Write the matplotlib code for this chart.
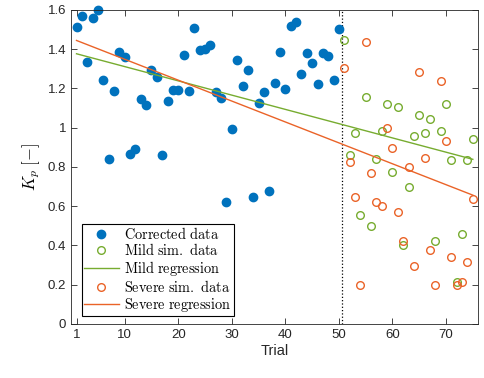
import numpy as np
import matplotlib
matplotlib.use('Agg')
from matplotlib import pyplot as plt

# corrected data, trials 1..50
trial_corr = np.arange(1, 51)
kp_corr = [1.514, 1.570, 1.333, 1.556, 1.597, 1.245, 0.842, 1.185, 1.384, 1.361,
           0.866, 0.891, 1.146, 1.114, 1.296, 1.258, 0.861, 1.134, 1.194, 1.190,
           1.372, 1.189, 1.507, 1.396, 1.403, 1.423, 1.180, 1.153, 0.621, 0.991,
           1.342, 1.211, 1.293, 0.646, 1.126, 1.179, 0.675, 1.228, 1.383, 1.199,
           1.519, 1.537, 1.272, 1.379, 1.328, 1.224, 1.379, 1.364, 1.241, 1.503]

# simulated data, trials 51..75
trial_sim = np.arange(51, 76)
kp_mild = [1.446, 0.859, 0.971, 0.556, 1.155, 0.500, 0.840, 0.981, 1.119, 0.776,
           1.104, 0.403, 0.697, 0.959, 1.063, 0.973, 1.042, 0.422, 0.985, 1.119,
           0.835, 0.213, 0.456, 0.835, 0.944]
kp_severe = [1.306, 0.825, 0.646, 0.197, 1.437, 0.767, 0.621, 0.599, 0.998, 0.898,
             0.570, 0.425, 0.801, 0.294, 1.281, 0.843, 0.378, 0.197, 1.235, 0.932,
             0.340, 0.197, 0.216, 0.313, 0.636]

blue = '#0072BD'
green = '#77AC30'
orange = '#EA6328'

plt.rcParams['mathtext.fontset'] = 'cm'
plt.rcParams['font.family'] = ['Liberation Sans', 'DejaVu Sans']

fig = plt.figure(figsize=(4.84, 3.78), dpi=100)
ax = fig.add_axes([0.147, 0.143, 0.841, 0.831])

# regressions over all trials
t_all = np.concatenate([trial_corr, trial_sim])
pm = np.polyfit(t_all, np.concatenate([kp_corr, kp_mild]), 1)
ps = np.polyfit(t_all, np.concatenate([kp_corr, kp_severe]), 1)
tt = np.array([1, 75])

ax.axvline(50.5, color='k', ls=':', lw=0.9)
ax.plot(trial_corr, kp_corr, 'o', color=blue, ms=6, clip_on=False,
        label=r'$\mathrm{Corrected\ data}$')
ax.plot(trial_sim, kp_mild, 'o', mfc='none', mec=green, ms=5.5, mew=1,
        label=r'$\mathrm{Mild\ sim.\ data}$')
ax.plot(tt, np.polyval(pm, tt), color=green, lw=1,
        label=r'$\mathrm{Mild\ regression}$')
ax.plot(trial_sim, kp_severe, 'o', mfc='none', mec=orange, ms=5.5, mew=1,
        label=r'$\mathrm{Severe\ sim.\ data}$')
ax.plot(tt, np.polyval(ps, tt), color=orange, lw=1,
        label=r'$\mathrm{Severe\ regression}$')

ax.set_xlim(0, 76)
ax.set_ylim(0, 1.6)
ax.set_xticks([1, 10, 20, 30, 40, 50, 60, 70])
ax.set_yticks([0, 0.2, 0.4, 0.6, 0.8, 1, 1.2, 1.4, 1.6])
ax.set_yticklabels(['0', '0.2', '0.4', '0.6', '0.8', '1', '1.2', '1.4', '1.6'])
ax.tick_params(direction='in', top=True, right=True, length=4, width=0.6,
               colors='#262626', labelsize=9.5, labelcolor='#262626')
for s in ax.spines.values():
    s.set_color('#262626')
    s.set_linewidth(0.6)
ax.set_xlabel('Trial', fontsize=10.5, color='#262626', labelpad=2)
ax.set_ylabel(r'$K_p\ [-]$', fontsize=12, labelpad=4)

leg = ax.legend(loc='lower left', bbox_to_anchor=(0.027, 0.026), fontsize=10.3,
                frameon=True, fancybox=False, edgecolor='k', framealpha=1,
                borderpad=0.15, labelspacing=0.05, handlelength=2.4, handletextpad=0.4,
                borderaxespad=0)
leg.get_frame().set_linewidth(0.8)

fig.savefig('out.png', dpi=100)
